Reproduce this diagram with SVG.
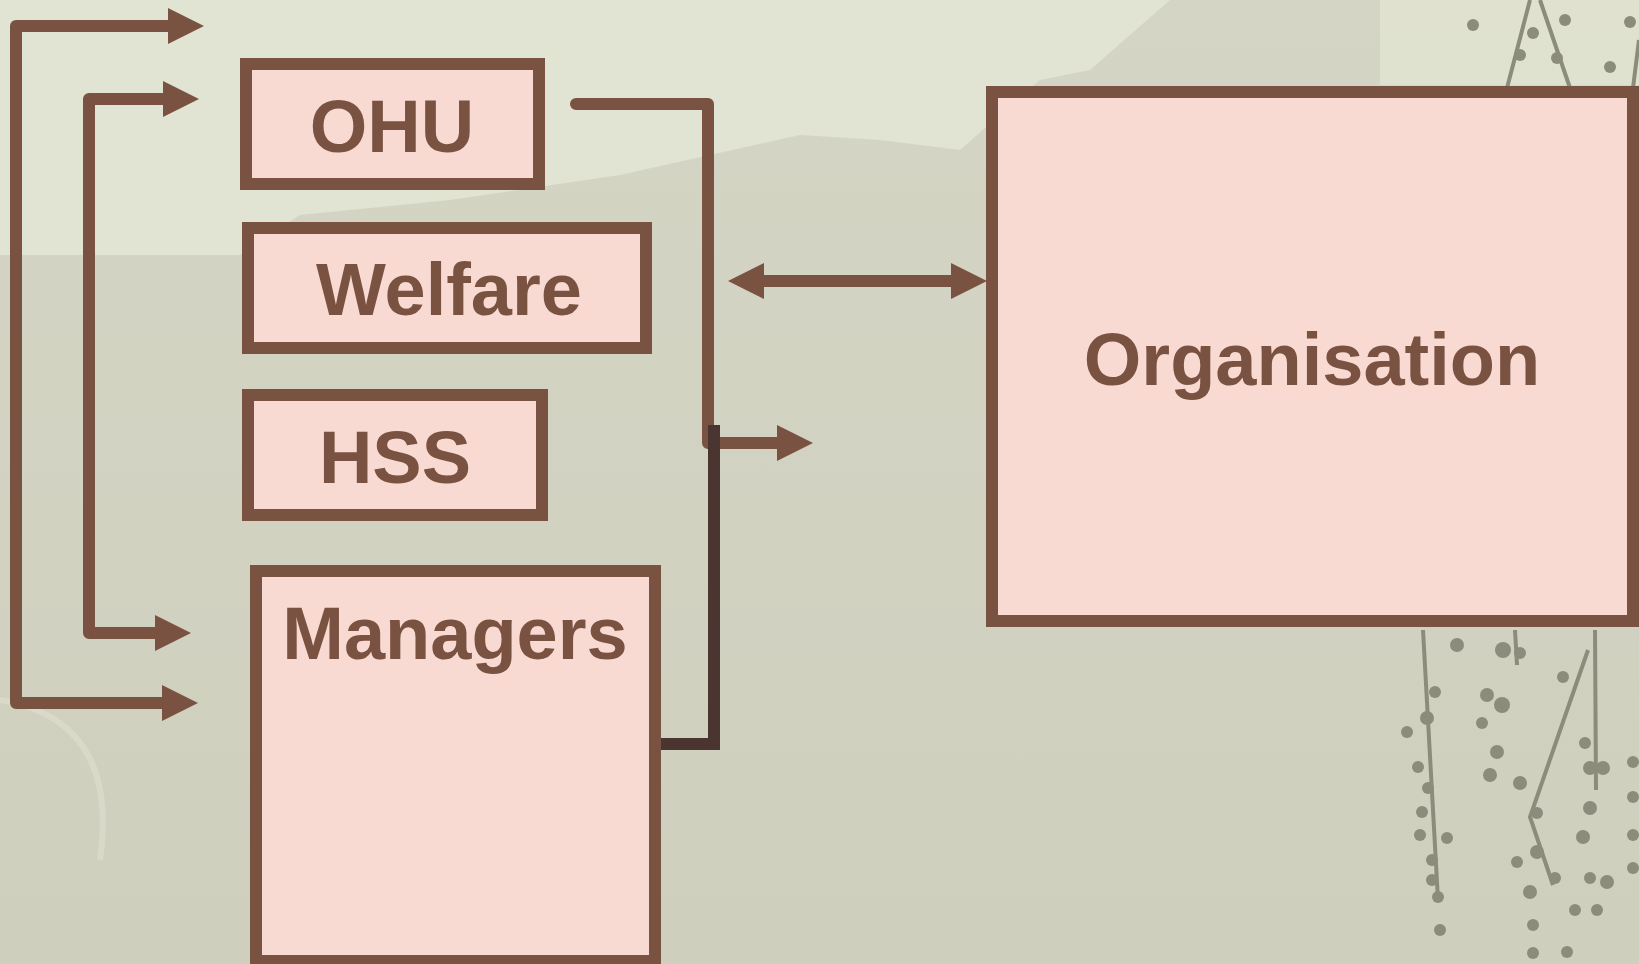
<svg xmlns="http://www.w3.org/2000/svg" width="1639" height="964" viewBox="0 0 1639 964">
<style>
.box{fill:#F8DAD2;stroke:#7A5241;stroke-width:12}
.lbl{font-family:"Liberation Sans",Arial,sans-serif;font-weight:bold;font-size:74px;fill:#7A5241;text-anchor:middle}
.con{fill:none;stroke:#7A5241;stroke-width:12;stroke-linejoin:round}
.dark{fill:none;stroke:#4A3531;stroke-width:12;stroke-linejoin:miter}
.vine{fill:none;stroke:#8C8C7C;stroke-width:4}
.dot{fill:#8C8C7C}
</style>
<defs>
<marker id="ah" markerUnits="userSpaceOnUse" markerWidth="36" markerHeight="36" refX="0" refY="18" orient="auto-start-reverse" viewBox="0 0 36 36">
<path d="M0,0 L36,18 L0,36 Z" fill="#7A5241"/>
</marker>
<linearGradient id="bg" x1="0" y1="0" x2="0" y2="1">
<stop offset="0" stop-color="#D4D5C4"/>
<stop offset="1" stop-color="#CFCFBE"/>
</linearGradient>
</defs>
<g id="background">
<rect width="1639" height="964" fill="url(#bg)"/>
<path d="M0,0 H1170 L1090,70 L1040,80 L960,150 L880,140 L800,135 L620,175 L450,200 L300,215 L240,255 L0,255 Z" fill="#E1E3D3"/>
<path d="M1380,0 H1639 V85 H1380 Z" fill="#E2E3D2" opacity="0.8"/>
<path d="M0,700 Q120,720 100,860" fill="none" stroke="#DFE0D2" stroke-width="6" opacity="0.6"/>
<g id="vines">
<path class="vine" d="M1507,88 L1530,0 M1570,88 L1540,0 M1633,88 L1639,40"/>
<path class="vine" d="M1423,630 L1438,900 M1595,630 L1596,790 M1588,650 L1530,817 L1553,885 M1515,630 L1517,665"/>
<circle class="dot" cx="1473" cy="25" r="6"/><circle class="dot" cx="1533" cy="33" r="6"/><circle class="dot" cx="1565" cy="20" r="6"/>
<circle class="dot" cx="1520" cy="55" r="6"/><circle class="dot" cx="1557" cy="58" r="6"/><circle class="dot" cx="1610" cy="67" r="6"/>
<circle class="dot" cx="1630" cy="22" r="6"/>
<circle class="dot" cx="1457" cy="645" r="7"/><circle class="dot" cx="1503" cy="650" r="8"/><circle class="dot" cx="1520" cy="653" r="6"/>
<circle class="dot" cx="1435" cy="692" r="6"/><circle class="dot" cx="1487" cy="695" r="7"/><circle class="dot" cx="1502" cy="705" r="8"/>
<circle class="dot" cx="1482" cy="723" r="6"/><circle class="dot" cx="1407" cy="732" r="6"/><circle class="dot" cx="1427" cy="718" r="7"/>
<circle class="dot" cx="1497" cy="752" r="7"/><circle class="dot" cx="1490" cy="775" r="7"/><circle class="dot" cx="1520" cy="783" r="7"/>
<circle class="dot" cx="1563" cy="677" r="6"/><circle class="dot" cx="1585" cy="743" r="6"/><circle class="dot" cx="1590" cy="768" r="7"/>
<circle class="dot" cx="1603" cy="768" r="7"/><circle class="dot" cx="1633" cy="762" r="6"/><circle class="dot" cx="1418" cy="767" r="6"/>
<circle class="dot" cx="1428" cy="788" r="6"/><circle class="dot" cx="1422" cy="812" r="6"/><circle class="dot" cx="1420" cy="835" r="6"/>
<circle class="dot" cx="1447" cy="838" r="6"/><circle class="dot" cx="1432" cy="860" r="6"/><circle class="dot" cx="1432" cy="880" r="6"/>
<circle class="dot" cx="1438" cy="897" r="6"/><circle class="dot" cx="1440" cy="930" r="6"/><circle class="dot" cx="1590" cy="808" r="7"/>
<circle class="dot" cx="1583" cy="837" r="7"/><circle class="dot" cx="1537" cy="813" r="6"/><circle class="dot" cx="1537" cy="852" r="7"/>
<circle class="dot" cx="1517" cy="862" r="6"/><circle class="dot" cx="1555" cy="878" r="6"/><circle class="dot" cx="1530" cy="892" r="7"/>
<circle class="dot" cx="1590" cy="878" r="6"/><circle class="dot" cx="1607" cy="882" r="7"/><circle class="dot" cx="1575" cy="910" r="6"/>
<circle class="dot" cx="1597" cy="910" r="6"/><circle class="dot" cx="1533" cy="925" r="6"/><circle class="dot" cx="1533" cy="953" r="6"/>
<circle class="dot" cx="1567" cy="952" r="6"/><circle class="dot" cx="1633" cy="797" r="6"/><circle class="dot" cx="1633" cy="835" r="6"/>
<circle class="dot" cx="1633" cy="868" r="6"/>
</g>
</g>
<g id="connectors">
<path class="con" d="M168,26 H16 V703 H162" marker-start="url(#ah)" marker-end="url(#ah)"/>
<path class="con" d="M163,99 H89 V633 H155" marker-start="url(#ah)" marker-end="url(#ah)"/>
<path class="con" d="M576,104 H708 V443 H777" stroke-linecap="round" marker-end="url(#ah)"/>
<path class="dark" d="M655,744 H714 V425"/>
<path class="con" d="M764,281 H951" marker-start="url(#ah)" marker-end="url(#ah)"/>
</g>
<g id="node-ohu">
<rect class="box" x="246" y="64" width="293" height="120"/>
<text class="lbl" x="392" y="152">OHU</text>
</g>
<g id="node-welfare">
<rect class="box" x="248" y="228" width="398" height="120"/>
<text class="lbl" x="449" y="315">Welfare</text>
</g>
<g id="node-hss">
<rect class="box" x="248" y="395" width="294" height="120"/>
<text class="lbl" x="395" y="483">HSS</text>
</g>
<g id="node-managers">
<rect class="box" x="256" y="571" width="399" height="390"/>
<text class="lbl" x="455" y="659">Managers</text>
</g>
<g id="node-organisation">
<rect class="box" x="992" y="92" width="641" height="529"/>
<text class="lbl" x="1312" y="385">Organisation</text>
</g>
</svg>
